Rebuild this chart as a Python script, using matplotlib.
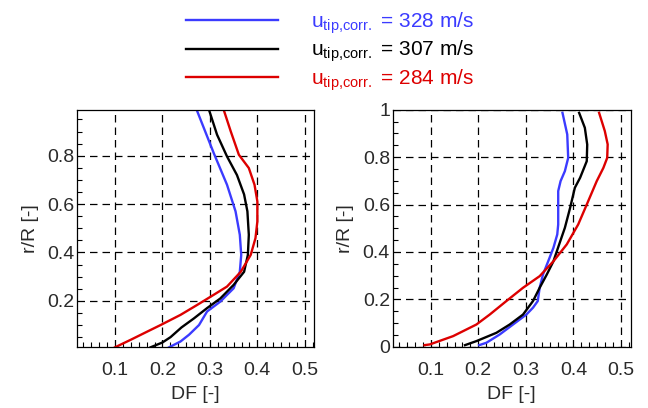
import numpy as np
import matplotlib.pyplot as plt
from matplotlib.ticker import MultipleLocator, AutoMinorLocator

plt.rcParams['font.family'] = ['Liberation Sans', 'DejaVu Sans']
plt.rcParams['mathtext.fontset'] = 'custom'
plt.rcParams['mathtext.rm'] = 'Liberation Sans'

############################################################
# Data: diffusion factor DF over r/R for three tip speeds

# left panel
l_blue_df = [0.272, 0.308, 0.336, 0.354, 0.363, 0.366, 0.363, 0.350, 0.322, 0.294, 0.277, 0.256, 0.238, 0.214]
l_blue_r  = [0.990, 0.811, 0.680, 0.570, 0.473, 0.390, 0.320, 0.252, 0.197, 0.156, 0.100, 0.060, 0.032, 0.008]

l_black_df = [0.298, 0.315, 0.336, 0.357, 0.372, 0.379, 0.382, 0.380, 0.372, 0.350, 0.322, 0.294, 0.266, 0.240, 0.217, 0.200, 0.175]
l_black_r  = [0.990, 0.887, 0.797, 0.720, 0.640, 0.570, 0.473, 0.390, 0.320, 0.266, 0.210, 0.170, 0.127, 0.090, 0.050, 0.028, 0.008]

l_red_df = [0.329, 0.344, 0.361, 0.382, 0.394, 0.400, 0.400, 0.396, 0.386, 0.365, 0.336, 0.308, 0.273, 0.238, 0.196, 0.168, 0.133, 0.100]
l_red_r  = [0.990, 0.900, 0.804, 0.749, 0.680, 0.611, 0.528, 0.459, 0.390, 0.320, 0.259, 0.225, 0.183, 0.142, 0.100, 0.073, 0.039, 0.008]

# right panel
r_blue_df = [0.377, 0.387, 0.389, 0.382, 0.373, 0.368, 0.368, 0.366, 0.358, 0.347, 0.336, 0.329, 0.325, 0.315, 0.301, 0.273, 0.245, 0.217, 0.202]
r_blue_r  = [0.987, 0.896, 0.797, 0.741, 0.699, 0.657, 0.516, 0.474, 0.418, 0.361, 0.305, 0.249, 0.193, 0.165, 0.136, 0.094, 0.052, 0.017, 0.007]

r_black_df = [0.412, 0.424, 0.429, 0.428, 0.414, 0.403, 0.393, 0.382, 0.370, 0.358, 0.344, 0.329, 0.315, 0.294, 0.266, 0.238, 0.196, 0.172]
r_black_r  = [0.987, 0.924, 0.853, 0.783, 0.713, 0.671, 0.586, 0.502, 0.432, 0.361, 0.305, 0.249, 0.193, 0.136, 0.094, 0.059, 0.024, 0.007]

r_red_df = [0.454, 0.466, 0.472, 0.471, 0.463, 0.449, 0.428, 0.410, 0.386, 0.358, 0.329, 0.294, 0.259, 0.224, 0.196, 0.147, 0.098, 0.087]
r_red_r  = [0.987, 0.910, 0.854, 0.797, 0.755, 0.699, 0.600, 0.516, 0.432, 0.361, 0.298, 0.249, 0.193, 0.136, 0.094, 0.045, 0.010, 0.007]

speeds = ['328', '307', '284']
colors = ['#3b3bff', 'black', '#dd0000']

############################################################
# Plotting

fig = plt.figure(figsize=(6.48, 4.08), dpi=100)
ax1 = fig.add_axes([0.119, 0.150, 0.366, 0.581])
ax2 = fig.add_axes([0.606, 0.150, 0.367, 0.581])

panels = [
    (ax1, [(l_blue_df, l_blue_r), (l_black_df, l_black_r), (l_red_df, l_red_r)], (0.01, 0.99)),
    (ax2, [(r_blue_df, r_blue_r), (r_black_df, r_black_r), (r_red_df, r_red_r)], (0.0, 1.0)),
]

handles = []
for ax, curves, ylim in panels:
    for (x, y), c in zip(curves, colors):
        h, = ax.plot(x, y, color=c, lw=1.7)
        if ax is ax1:
            handles.append(h)
    ax.set_xlim(0.02, 0.52)
    ax.set_ylim(*ylim)
    ax.xaxis.set_major_locator(MultipleLocator(0.1))
    ax.yaxis.set_major_locator(MultipleLocator(0.2))
    ax.xaxis.set_minor_locator(AutoMinorLocator(6))
    ax.yaxis.set_minor_locator(AutoMinorLocator(4))
    ax.grid(True, which='major', color='black', ls=(0, (6, 4)), lw=0.9)
    ax.tick_params(which='both', direction='in', labelsize=14, colors='black',
                   labelcolor='#2a2a2a')
    ax.tick_params(axis='x', which='major', length=0, pad=11)
    ax.tick_params(axis='y', which='major', length=0, pad=2)
    ax.tick_params(which='minor', length=3.5, width=0.8)
    for s in ax.spines.values():
        s.set_linewidth(0.9)
    ax.set_xlabel('DF [-]', size=14, labelpad=5, color='#2a2a2a')
    ax.set_ylabel('r/R [-]', size=14, labelpad=6, color='#2a2a2a')

ax1.set_yticks([0.2, 0.4, 0.6, 0.8])
ax2.set_yticks([0, 0.2, 0.4, 0.6, 0.8, 1.0])
ax2.set_yticklabels(['0', '0.2', '0.4', '0.6', '0.8', '1'])
for ax in (ax1, ax2):
    ax.set_xticks([0.1, 0.2, 0.3, 0.4, 0.5])
    ax.set_xticklabels(['0.1', '0.2', '0.3', '0.4', '0.5'])

labels = [r'$\mathregular{u_{tip{,}corr.}}$ = ' + s + ' m/s' for s in speeds]
leg = fig.legend(handles, labels, loc='upper center', bbox_to_anchor=(0.51, 1.02),
                 frameon=False, fontsize=15, handlelength=4.4, handletextpad=1.6,
                 labelspacing=0.13)
for t, c in zip(leg.get_texts(), colors):
    t.set_color(c)

fig.savefig('out.png', dpi=100)
